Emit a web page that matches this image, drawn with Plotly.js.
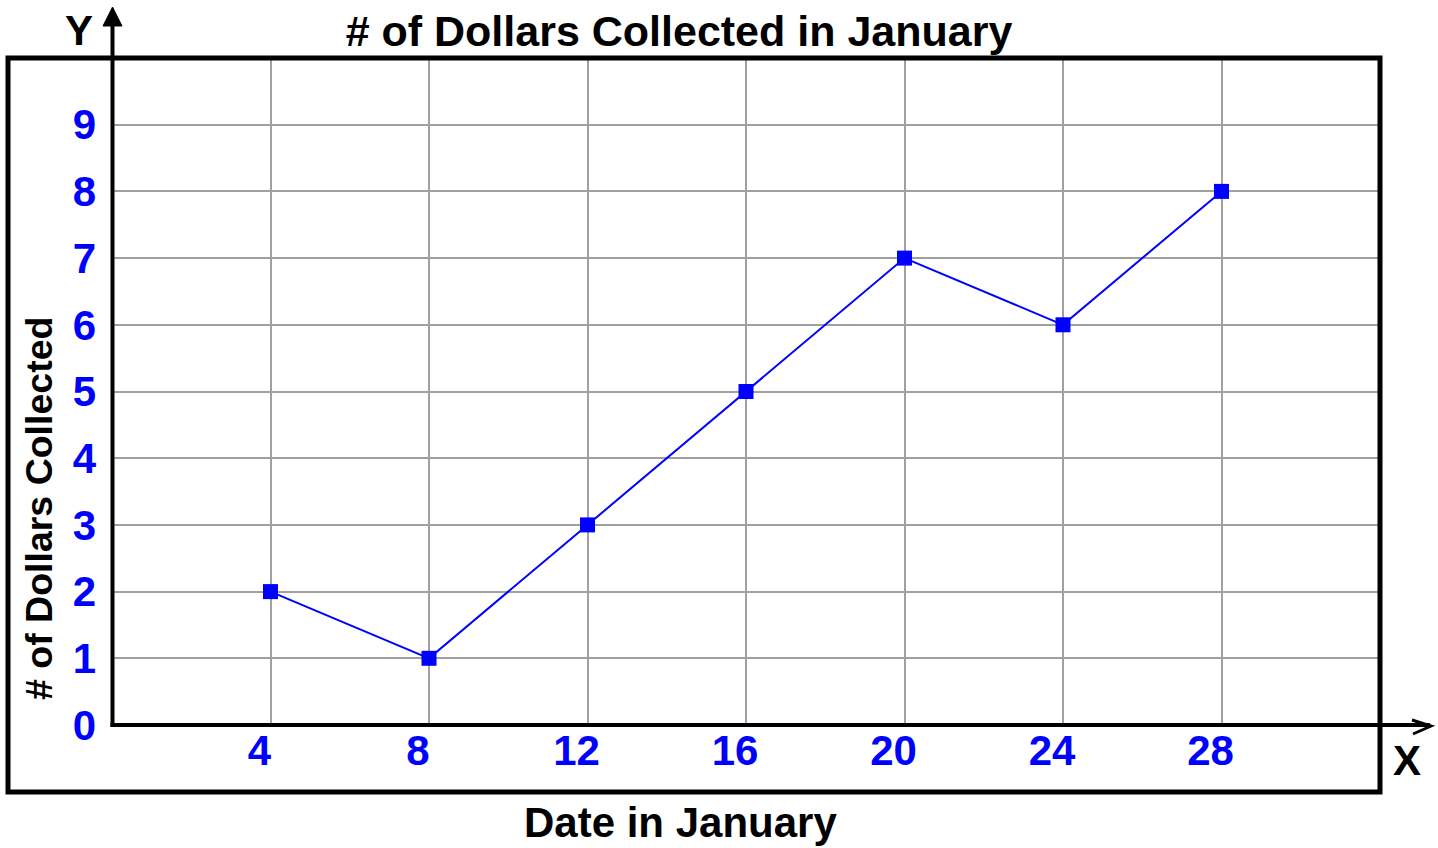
<!DOCTYPE html>
<html>
<head>
<meta charset="utf-8">
<script src="https://cdn.plot.ly/plotly-3.0.1.min.js"></script>
<style>
  html, body { margin: 0; padding: 0; background: #ffffff; }
  #chart { width: 1438px; height: 848px; }
</style>
</head>
<body>
<div id="chart"></div>
<script>
// ---- data ----
const dates = [4, 8, 12, 16, 20, 24, 28];
const dollars = [2, 1, 3, 5, 7, 6, 8];
const xTickVals = [4, 8, 12, 16, 20, 24, 28];
const yTickVals = [0, 1, 2, 3, 4, 5, 6, 7, 8, 9];
const chartTitle = '# of Dollars Collected in January';
const xTitle = 'Date in January';
const yTitle = '# of Dollars Collected';

// ---- geometry helpers (plot area pixels) ----
const W = 1438, H = 848;
const L = 112, R = 1380, T = 58, B = 725;
const px = v => (v - L) / (R - L);
const py = v => (B - v) / (B - T);

const FONT = 'Liberation Sans, Arial, Helvetica, sans-serif';

const trace = {
  x: dates,
  y: dollars,
  type: 'scatter',
  mode: 'lines+markers',
  line: { color: '#0000ff', width: 2 },
  marker: { color: '#0000ff', symbol: 'square', size: 15 },
  hoverinfo: 'x+y'
};

const shapes = [
  // outer frame
  { type: 'rect', xref: 'paper', yref: 'paper',
    x0: px(8), x1: px(1380), y0: py(792), y1: py(58),
    line: { color: '#000', width: 5 }, fillcolor: 'rgba(0,0,0,0)' },
  // y axis line
  { type: 'line', xref: 'paper', yref: 'paper',
    x0: px(112.5), x1: px(112.5), y0: py(727), y1: py(22),
    line: { color: '#000', width: 4 } },
  // y axis arrowhead (filled)
  { type: 'path', xref: 'paper', yref: 'paper',
    path: `M ${px(103)} ${py(26)} L ${px(112.5)} ${py(7)} L ${px(122)} ${py(26)} Z`,
    fillcolor: '#000', line: { color: '#000', width: 1 } },
  // x axis line
  { type: 'line', xref: 'paper', yref: 'paper',
    x0: px(110.5), x1: px(1430), y0: py(725), y1: py(725),
    line: { color: '#000', width: 4 } },
  // x axis arrowhead (open chevron)
  { type: 'path', xref: 'paper', yref: 'paper',
    path: `M ${px(1412)} ${py(720)} L ${px(1431)} ${py(726)} L ${px(1413)} ${py(734)}`,
    line: { color: '#000', width: 3 } }
];

const annotations = [
  { text: 'Y', xref: 'paper', yref: 'paper', x: px(79), y: py(31),
    xanchor: 'center', yanchor: 'middle', showarrow: false,
    font: { family: FONT, size: 42, color: '#000', weight: 'bold' } },
  { text: 'X', xref: 'paper', yref: 'paper', x: px(1407), y: py(760),
    xanchor: 'center', yanchor: 'middle', showarrow: false,
    font: { family: FONT, size: 42, color: '#000', weight: 'bold' } },
  { text: xTitle, xref: 'paper', yref: 'paper', x: px(680), y: py(822),
    xanchor: 'center', yanchor: 'middle', showarrow: false,
    font: { family: FONT, size: 42, color: '#000', weight: 'bold' } },
  { text: yTitle, xref: 'paper', yref: 'paper', x: px(39), y: py(509),
    xanchor: 'center', yanchor: 'middle', showarrow: false, textangle: -90,
    font: { family: FONT, size: 37.5, color: '#000', weight: 'bold' } }
];

const layout = {
  width: W, height: H,
  margin: { l: L, r: W - R, t: T, b: H - B, pad: 0 },
  paper_bgcolor: '#ffffff',
  plot_bgcolor: '#ffffff',
  showlegend: false,
  title: {
    text: chartTitle,
    xref: 'container', yref: 'container',
    x: 679 / W, y: 1 - 31 / H, xanchor: 'center', yanchor: 'middle',
    font: { family: FONT, size: 43, color: '#000', weight: 'bold' }
  },
  xaxis: {
    range: [0, 32],
    tickvals: xTickVals,
    ticktext: xTickVals.map(String),
    showgrid: true, gridcolor: '#a0a0a0', gridwidth: 2,
    zeroline: false, showline: false, ticks: '',
    ticklabelstandoff: -3,
    ticklabelshift: -11,
    tickfont: { family: FONT, size: 42, color: '#0000ff', weight: 'bold' },
    fixedrange: true
  },
  yaxis: {
    range: [0, 10],
    tickvals: yTickVals,
    ticktext: yTickVals.map(String),
    showgrid: true, gridcolor: '#a0a0a0', gridwidth: 2,
    zeroline: false, showline: false, ticks: '',
    ticklabelstandoff: 15,
    tickfont: { family: FONT, size: 42, color: '#0000ff', weight: 'bold' },
    fixedrange: true
  },
  shapes: shapes,
  annotations: annotations
};

Plotly.newPlot('chart', [trace], layout, { displayModeBar: false, staticPlot: false });
</script>
</body>
</html>
